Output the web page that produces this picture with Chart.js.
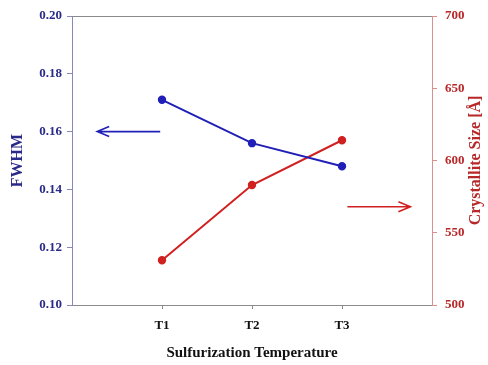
<!DOCTYPE html>
<html>
<head>
<meta charset="utf-8">
<script src="https://cdn.jsdelivr.net/npm/chart.js@4/dist/chart.umd.min.js"></script>
<style>
  html, body { margin: 0; padding: 0; background: #fff; }
  #wrap { width: 488px; height: 365px; }
</style>
</head>
<body>
<div id="wrap"><canvas id="chart" width="488" height="365"></canvas></div>
<script>
// data
const categories = ['T1', 'T2', 'T3'];
const categoryPos = [1, 2, 3];
const fwhm = [0.171, 0.156, 0.148];
const crystalliteSize = [531, 583, 614];
const fwhmTicks = [0.10, 0.12, 0.14, 0.16, 0.18, 0.20];
const sizeTicks = [500, 550, 600, 650, 700];
// arrows pointing to the axis each series belongs to
const fwhmArrowX = [0.98, 0.28];
const fwhmArrowY = 0.16;
const sizeArrowX = [3.06, 3.76];
const sizeArrowY = 568;

const blue = '#2020b8';
const navy = '#2a2a8a';
const red = '#d02020';
const darkRed = '#b82828';
const font = '"Liberation Serif", "Times New Roman", serif';

const decorPlugin = {
    id: 'decor',
    afterDatasetsDraw(chart) {
        const ctx = chart.ctx;
        const area = chart.chartArea;
        const xs = chart.scales.x;
        const yl = chart.scales.yFwhm;
        const yr = chart.scales.ySize;

        // top frame line
        ctx.save();
        ctx.strokeStyle = '#8a8a8a';
        ctx.lineWidth = 1;
        ctx.beginPath();
        ctx.moveTo(area.left, area.top + 0.5);
        ctx.lineTo(area.right, area.top + 0.5);
        ctx.stroke();

        function arrow(x0, x1, y, color) {
            const px0 = xs.getPixelForValue(x0);
            const px1 = xs.getPixelForValue(x1);
            const dir = px1 > px0 ? 1 : -1;
            ctx.strokeStyle = color;
            ctx.lineWidth = 1.6;
            ctx.beginPath();
            ctx.moveTo(px0, y);
            ctx.lineTo(px1, y);
            ctx.moveTo(px1 - dir * 12, y - 5);
            ctx.lineTo(px1, y);
            ctx.lineTo(px1 - dir * 12, y + 5);
            ctx.stroke();
        }
        arrow(fwhmArrowX[0], fwhmArrowX[1], yl.getPixelForValue(fwhmArrowY), blue);
        arrow(sizeArrowX[0], sizeArrowX[1], yr.getPixelForValue(sizeArrowY), red);

        // right axis title, reading bottom to top
        ctx.fillStyle = darkRed;
        ctx.font = 'bold 16px ' + font;
        ctx.textAlign = 'center';
        ctx.textBaseline = 'middle';
        ctx.translate(476, (area.top + area.bottom) / 2);
        ctx.rotate(-Math.PI / 2);
        ctx.fillText('Crystallite Size [\u00C5]', 0, 0);
        ctx.restore();
    }
};

const ctx = document.getElementById('chart').getContext('2d');
new Chart(ctx, {
    type: 'line',
    data: {
        datasets: [
            {
                label: 'FWHM',
                data: categoryPos.map((x, i) => ({ x: x, y: fwhm[i] })),
                yAxisID: 'yFwhm',
                borderColor: blue,
                backgroundColor: blue,
                borderWidth: 2,
                pointRadius: 3.2,
                pointHoverRadius: 3.2,
                tension: 0
            },
            {
                label: 'Crystallite Size',
                data: categoryPos.map((x, i) => ({ x: x, y: crystalliteSize[i] })),
                yAxisID: 'ySize',
                borderColor: red,
                backgroundColor: red,
                borderWidth: 2,
                pointRadius: 3.2,
                pointHoverRadius: 3.2,
                tension: 0
            }
        ]
    },
    options: {
        responsive: false,
        animation: false,
        layout: { padding: { top: 16, bottom: 0, left: 0, right: 0 } },
        plugins: {
            legend: { display: false },
            tooltip: { enabled: false }
        },
        scales: {
            x: {
                type: 'linear',
                min: 0,
                max: 4,
                afterBuildTicks: scale => {
                    scale.ticks = categoryPos.map(v => ({ value: v }));
                },
                afterFit: scale => { scale.height = 60; },
                ticks: {
                    callback: v => categories[categoryPos.indexOf(v)] || '',
                    color: '#111',
                    font: { family: font, size: 13, weight: 'bold' },
                    padding: 9,
                    maxRotation: 0
                },
                grid: { drawOnChartArea: false, drawTicks: true, tickLength: 4, color: '#8a8a8a' },
                border: { color: '#8a8a8a', width: 1 },
                title: {
                    display: true,
                    text: 'Sulfurization Temperature',
                    color: '#111',
                    font: { family: font, size: 15, weight: 'bold' },
                    padding: { top: 4, bottom: 3 }
                }
            },
            yFwhm: {
                type: 'linear',
                position: 'left',
                min: 0.10,
                max: 0.20,
                afterBuildTicks: scale => {
                    scale.ticks = fwhmTicks.map(v => ({ value: v }));
                },
                afterFit: scale => { scale.width = 72; },
                ticks: {
                    callback: v => v.toFixed(2),
                    color: navy,
                    font: { family: font, size: 13, weight: 'bold' },
                    padding: 5
                },
                grid: { drawOnChartArea: false, drawTicks: true, tickLength: 5, color: '#8888b8' },
                border: { color: '#8888b8', width: 1 },
                title: {
                    display: true,
                    text: 'FWHM',
                    color: navy,
                    font: { family: font, size: 16, weight: 'bold' },
                    padding: { top: 8, bottom: 4 }
                }
            },
            ySize: {
                type: 'linear',
                position: 'right',
                min: 500,
                max: 700,
                afterBuildTicks: scale => {
                    scale.ticks = sizeTicks.map(v => ({ value: v }));
                },
                afterFit: scale => { scale.width = 56; },
                ticks: {
                    color: darkRed,
                    font: { family: font, size: 13, weight: 'bold' },
                    padding: 8
                },
                grid: { drawOnChartArea: false, drawTicks: true, tickLength: 5, color: '#d89090' },
                border: { color: '#d89090', width: 1 }
            }
        }
    },
    plugins: [decorPlugin]
});
</script>
</body>
</html>
